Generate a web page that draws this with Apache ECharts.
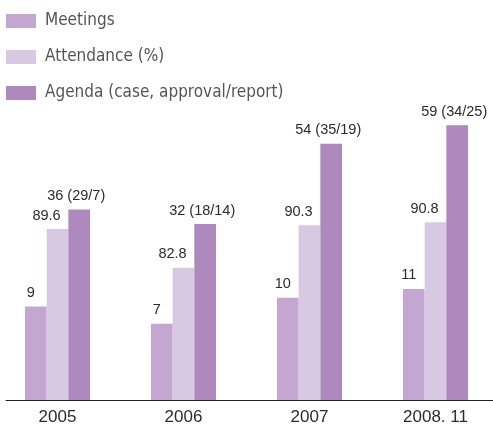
<!DOCTYPE html>
<html>
<head>
<meta charset="utf-8">
<style>
  html, body { margin: 0; padding: 0; background: #fff; }
  #chart { width: 493px; height: 425px; }
</style>
<script src="https://cdn.jsdelivr.net/npm/echarts@6/dist/echarts.min.js"></script>
</head>
<body>
<div id="chart"></div>
<script>
const years = ["2005", "2006", "2007", "2008. 11"];
const meetings = [9, 7, 10, 11];
const attendance = [89.6, 82.8, 90.3, 90.8];
const agenda = [36, 32, 54, 59];
const agendaCase = [29, 18, 35, 34];
const agendaReport = [7, 14, 19, 25];

const labelFont = "'Liberation Sans', Arial, sans-serif";
const legendFont = "'DejaVu Sans Condensed', 'Noto Sans', sans-serif";

// each series sits on its own hidden value axis, as in the original artwork
const axisRanges = [
  { min: -1.74, max: 32.69 },
  { min: 59.6, max: 112.27 },
  { min: -16.1, max: 65.93 },
];

function valueAxis(range) {
  return {
    type: "value",
    gridIndex: 0,
    show: false,
    min: range.min,
    max: range.max,
    startValue: range.min,
    splitLine: { show: false },
  };
}

function barSeries(name, data, axisIndex, color, offset, formatter) {
  return {
    name,
    type: "bar",
    xAxisIndex: 0,
    yAxisIndex: axisIndex,
    data,
    barWidth: 21.7,
    barGap: "0%",
    itemStyle: { color },
    label: {
      show: true,
      position: "top",
      distance: 6,
      offset,
      color: "#2b2b2b",
      fontSize: 14.5,
      fontFamily: labelFont,
      formatter,
    },
  };
}

const chart = echarts.init(document.getElementById("chart"));

chart.setOption({
  animation: false,
  legend: {
    orient: "vertical",
    left: 6,
    top: 12.5,
    padding: 0,
    itemWidth: 30,
    itemHeight: 14,
    itemGap: 19,
    icon: "rect",
    textStyle: { color: "#555", fontSize: 17, lineHeight: 16, fontFamily: legendFont, padding: [0, 0, 0, 4] },
    data: ["Meetings", "Attendance (%)", "Agenda (case, approval/report)"],
  },
  grid: [
    { left: -5.5, width: 504, top: 100, bottom: 25, outerBoundsMode: "none" },
    { left: 6, right: 0, top: 100, bottom: 25, outerBoundsMode: "none" },
  ],
  xAxis: [
    {
      type: "category",
      gridIndex: 0,
      data: years,
      axisLine: { show: false },
      axisTick: { show: false },
      axisLabel: { color: "#2b2b2b", fontSize: 17, fontFamily: "'Liberation Sans', sans-serif", margin: 9 },
    },
    {
      type: "value",
      gridIndex: 1,
      min: 0,
      max: 1,
      axisLine: { show: true, lineStyle: { color: "#222", width: 1 } },
      axisTick: { show: false },
      axisLabel: { show: false },
      splitLine: { show: false },
    },
  ],
  yAxis: [
    valueAxis(axisRanges[0]),
    valueAxis(axisRanges[1]),
    valueAxis(axisRanges[2]),
    { type: "value", gridIndex: 1, show: false, splitLine: { show: false } },
  ],
  series: [
    barSeries("Meetings", meetings, 0, "#c3a7d0", [-5, 0]),
    barSeries("Attendance (%)", attendance, 1, "#d8c9e3", [-11, 0]),
    barSeries("Agenda (case, approval/report)", agenda, 2, "#ae89bd", [-3, 0],
      (p) => p.value + " (" + agendaCase[p.dataIndex] + "/" + agendaReport[p.dataIndex] + ")"),
  ],
});
</script>
</body>
</html>
